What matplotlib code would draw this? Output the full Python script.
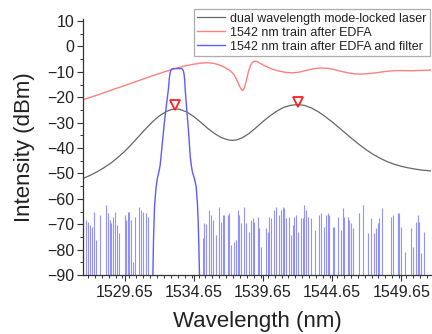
import matplotlib
matplotlib.use("Agg")
import matplotlib.pyplot as plt
from matplotlib.ticker import MultipleLocator, FixedLocator

plt.rcParams['font.family'] = ['Liberation Sans', 'DejaVu Sans']

# ---- data ----
laser_wl = [1526.65, 1527.15, 1527.65, 1528.15, 1528.65, 1529.15, 1529.65, 1530.15, 1530.65,
            1531.15, 1531.65, 1532.15, 1532.65, 1533.0, 1533.3, 1533.65, 1534.15, 1534.65,
            1535.15, 1535.65, 1536.15, 1536.65, 1537.15, 1537.45, 1537.75, 1538.15, 1538.65,
            1539.15, 1539.65, 1540.15, 1540.65, 1541.15, 1541.65, 1542.15, 1542.65, 1543.15,
            1543.65, 1544.15, 1544.65, 1545.15, 1545.65, 1546.15, 1546.65, 1547.15, 1547.65,
            1548.15, 1548.65, 1549.15, 1549.65, 1550.15, 1550.65, 1551.15, 1551.8]
laser_db = [-52.0, -50.8, -49.4, -47.8, -46.0, -43.8, -41.4, -38.6, -35.6,
            -32.6, -29.8, -27.4, -25.7, -24.9, -24.6, -24.8, -25.8, -27.6,
            -29.8, -32.2, -34.3, -35.9, -36.8, -37.0, -36.8, -36.0, -34.3,
            -32.0, -29.6, -27.4, -25.5, -24.0, -23.2, -22.9, -23.2, -24.2,
            -25.7, -27.6, -29.7, -32.0, -34.3, -36.6, -38.8, -40.8, -42.6,
            -44.1, -45.4, -46.4, -47.2, -47.8, -48.3, -48.7, -49.0]

edfa_wl = [1526.65, 1527.65, 1528.65, 1529.65, 1530.65, 1531.65, 1532.65, 1533.65, 1534.15,
           1534.65, 1535.15, 1535.65, 1536.15, 1536.65, 1537.0, 1537.3, 1537.55, 1537.75,
           1537.95, 1538.1, 1538.2, 1538.3, 1538.45, 1538.6, 1538.75, 1538.9, 1539.05,
           1539.25, 1539.5, 1539.85, 1540.3, 1540.8, 1541.3, 1541.8, 1542.3, 1542.8,
           1543.3, 1543.8, 1544.3, 1544.8, 1545.3, 1545.8, 1546.3, 1546.8, 1547.3,
           1547.8, 1548.3, 1548.8, 1549.3, 1549.8, 1550.3, 1550.8, 1551.3, 1551.8]
edfa_db = [-21.0, -19.2, -17.3, -15.4, -13.5, -11.6, -9.8, -8.2, -7.5,
           -7.0, -6.6, -6.4, -6.7, -7.6, -8.6, -9.6, -11.0, -13.0,
           -15.5, -17.0, -17.4, -16.5, -13.5, -10.0, -7.5, -6.2, -5.8,
           -6.0, -6.8, -7.8, -8.9, -9.7, -10.2, -10.4, -10.1, -9.4,
           -8.8, -8.5, -8.6, -9.1, -9.8, -10.4, -10.8, -10.9, -10.7,
           -10.4, -10.0, -9.7, -9.5, -9.5, -9.6, -9.5, -9.4, -9.3]

filt_wl = [1531.70, 1531.75, 1531.82, 1531.92, 1532.02, 1532.13, 1532.22, 1532.30, 1532.42,
           1532.54, 1532.68, 1532.83, 1532.88, 1532.93, 1532.98, 1533.04, 1533.12, 1533.76,
           1533.84, 1533.90, 1533.95, 1534.00, 1534.03, 1534.12, 1534.22, 1534.31, 1534.39,
           1534.48, 1534.56, 1534.70, 1534.83, 1534.92, 1534.97, 1535.02, 1535.07]
filt_db = [-90, -75, -63, -56, -52, -49.5, -47, -42.8, -36,
           -29.6, -23, -16.5, -13, -10.8, -9.6, -9.0, -8.7, -8.7,
           -9.0, -9.6, -10.8, -13, -16.5, -23, -29.6, -36, -42.8,
           -47, -49.5, -52, -55.2, -62, -68, -78, -90]

noise_wl = [1526.88, 1527.00, 1527.12, 1527.31, 1527.41, 1527.60, 1527.89, 1528.33, 1528.45,
            1528.57, 1528.69, 1528.81, 1528.93, 1529.10, 1529.24, 1529.65, 1529.77, 1529.89,
            1530.01, 1530.13, 1530.25, 1530.44, 1530.68, 1530.85, 1530.97, 1531.17, 1531.33,
            1535.31, 1535.43, 1535.55, 1535.79, 1535.91, 1536.03, 1536.27, 1536.51, 1536.63,
            1536.75, 1536.87, 1537.11, 1537.23, 1537.35, 1537.59, 1537.71, 1537.83, 1537.95,
            1538.07, 1538.31, 1538.43, 1538.67, 1538.79, 1538.92, 1539.04, 1539.28, 1539.40,
            1539.52, 1539.88, 1540.00, 1540.12, 1540.24, 1540.48, 1540.60, 1540.84, 1540.96,
            1541.08, 1541.20, 1541.32, 1541.56, 1541.68, 1541.80, 1541.92, 1542.04, 1542.16,
            1542.40, 1542.52, 1542.65, 1542.77, 1542.89, 1543.13, 1543.44, 1543.73, 1543.85,
            1544.09, 1544.21, 1544.33, 1544.45, 1544.69, 1544.81, 1545.05, 1545.29, 1545.41,
            1545.53, 1545.78, 1545.90, 1546.02, 1546.14, 1546.62, 1546.86, 1547.22, 1547.46,
            1547.70, 1547.82, 1547.94, 1548.06, 1548.25, 1548.90, 1549.02, 1549.38, 1549.51,
            1549.63, 1549.94, 1550.35, 1550.47, 1550.71, 1550.83, 1550.95, 1551.07, 1551.31]
noise_db = [-68.3, -69.0, -70.3, -71.0, -65.1, -76.2, -66.4, -62.4, -65.7,
            -68.3, -69.7, -67.0, -65.1, -70.3, -73.6, -66.4, -68.3, -65.1,
            -65.1, -68.3, -84.8, -67.0, -63.1, -64.4, -65.1, -65.7, -67.0,
            -75.6, -69.7, -70.0, -64.4, -66.4, -68.3, -74.2, -63.1, -69.0,
            -66.4, -66.4, -66.4, -65.7, -78.2, -76.9, -76.2, -64.4, -66.4,
            -69.7, -63.1, -69.7, -72.9, -68.3, -67.7, -69.0, -67.0, -71.6,
            -78.8, -71.6, -72.9, -67.0, -67.7, -64.4, -63.1, -66.4, -64.4,
            -63.1, -63.7, -67.7, -67.0, -74.2, -70.3, -67.0, -66.4, -72.9,
            -67.7, -67.7, -62.4, -64.4, -67.0, -67.7, -72.3, -66.4, -65.7,
            -71.0, -66.4, -65.7, -66.4, -71.0, -71.0, -67.0, -72.3, -63.8,
            -67.0, -67.0, -68.3, -69.7, -71.6, -65.7, -62.4, -73.6, -67.7,
            -73.6, -71.6, -69.7, -67.7, -63.8, -67.0, -66.4, -65.7, -65.7,
            -71.0, -80.8, -71.6, -78.8, -69.0, -66.4, -69.0, -81.5, -72.9]

peak_wl = [1533.3, 1542.2]
peak_db = [-23.2, -21.8]

xticks = [1529.65, 1534.65, 1539.65, 1544.65, 1549.65]
xtick_labels = ["1529.65", "1534.65", "1539.65", "1544.65", "1549.65"]
yticks = [10, 0, -10, -20, -30, -40, -50, -60, -70, -80, -90]

# ---- figure ----
fig = plt.figure(figsize=(4.32, 3.34), dpi=100)
ax = fig.add_axes([83/432, 59/334, 348/432, 256.5/334])

ax.vlines(noise_wl, -90, noise_db, colors='#3b3bff', linewidth=0.8, alpha=0.55)
l1, = ax.plot(laser_wl, laser_db, color='#666666', lw=0.9,
              label='dual wavelength mode-locked laser')
l2, = ax.plot(edfa_wl, edfa_db, color='#ff8080', lw=1.0,
              label='1542 nm train after EDFA')
l3, = ax.plot(filt_wl, filt_db, color='#5c5cff', lw=1.0,
              label='1542 nm train after EDFA and filter')
ax.plot(peak_wl, peak_db, linestyle='none', marker='v', markersize=7,
        markerfacecolor='none', markeredgecolor='#ff2020', markeredgewidth=1.3)

ax.set_xlim(1526.65, 1551.8)
ax.set_ylim(-90, 11)
ax.xaxis.set_major_locator(FixedLocator(xticks))
ax.set_xticklabels(xtick_labels)
ax.xaxis.set_minor_locator(MultipleLocator(0.5))
ax.yaxis.set_major_locator(FixedLocator(yticks))
ax.yaxis.set_minor_locator(MultipleLocator(5))
ax.tick_params(axis='both', which='major', labelsize=11.5, length=4, width=0.8,
               direction='out', colors='#333333', labelcolor='#222222')
ax.tick_params(axis='both', which='minor', length=2.5, width=0.7, direction='out',
               colors='#333333')
ax.tick_params(axis='x', pad=3)
ax.tick_params(axis='y', pad=2)
for s in ['top', 'right']:
    ax.spines[s].set_visible(False)
for s in ['left', 'bottom']:
    ax.spines[s].set_color('#333333')
    ax.spines[s].set_linewidth(0.9)

ax.set_xlabel('Wavelength (nm)', fontsize=16, color='#222222', labelpad=8)
ax.set_ylabel('Intensity (dBm)', fontsize=16, color='#222222', labelpad=9)

leg = ax.legend(handles=[l1, l2, l3], loc='upper right',
                bbox_to_anchor=(430/432, (334-9)/334), bbox_transform=fig.transFigure,
                fontsize=9, frameon=True, fancybox=False, handlelength=2.2,
                handletextpad=0.4, borderpad=0.3, labelspacing=0.15, borderaxespad=0)
leg.get_frame().set_edgecolor('#999999')
leg.get_frame().set_linewidth(0.9)
for t in leg.get_texts():
    t.set_color('#222222')

fig.savefig('out.png', dpi=100)
